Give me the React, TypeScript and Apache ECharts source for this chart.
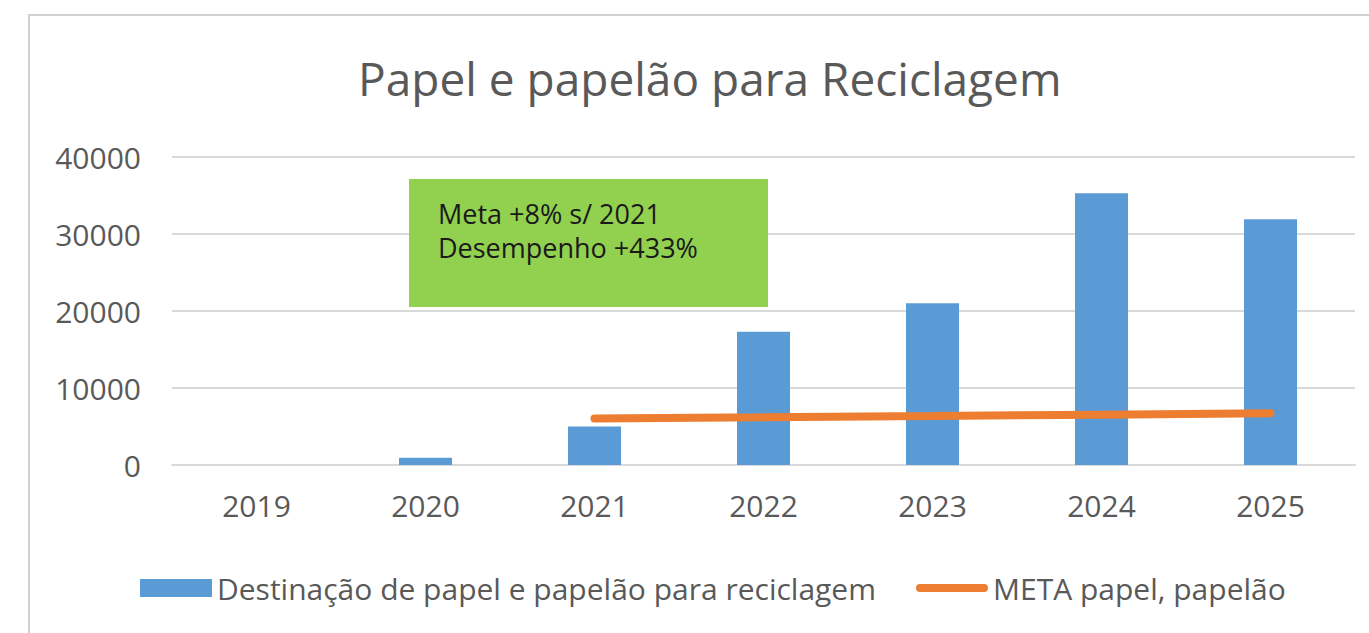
import React, { useEffect, useRef } from "react";
import * as echarts from "echarts";

const categories = ["2019", "2020", "2021", "2022", "2023", "2024", "2025"];
const destinacao = [0, 950, 5000, 17300, 21000, 35300, 31900];
const meta = [null, null, 6050, 6200, 6360, 6540, 6710];
const titleText = "Papel e papelão para Reciclagem";
const seriesNames = ["Destinação de papel e papelão para reciclagem", "META papel, papelão"];
const noteLines = ["Meta +8% s/ 2021", "Desempenho +433%"];

const FONT = "'Open Sans', sans-serif";

export default function App() {
  const ref = useRef<HTMLDivElement>(null);
  useEffect(() => {
    if (!ref.current) return;
    const chart = echarts.init(ref.current, undefined, { renderer: "svg" });
    chart.setOption({
      animation: false,
      backgroundColor: "#ffffff",
      textStyle: { fontFamily: FONT },
      title: {
        text: titleText,
        left: 353,
        top: 50,
        textStyle: { fontFamily: FONT, fontSize: 46, fontWeight: "normal", color: "#595959" },
      },
      grid: { left: 172, right: 14, top: 157, bottom: 168, containLabel: false },
      xAxis: {
        type: "category",
        data: categories,
        axisLine: { lineStyle: { color: "#d9d9d9", width: 2 } },
        axisTick: { show: false },
        axisLabel: { color: "#595959", fontSize: 30, fontFamily: FONT, margin: 25 },
      },
      yAxis: {
        type: "value",
        min: 0,
        max: 40000,
        interval: 10000,
        axisLine: { show: false },
        axisTick: { show: false },
        splitLine: { lineStyle: { color: "#d9d9d9", width: 2 } },
        axisLabel: {
          color: "#595959",
          fontSize: 30,
          fontFamily: FONT,
          margin: 31,
          formatter: (v: number) => String(v),
        },
      },
      legend: {
        left: 135,
        top: 568,
        itemWidth: 72,
        itemHeight: 18,
        itemGap: 40,
        textStyle: { color: "#595959", fontSize: 30, fontFamily: FONT },
        data: [
          { name: seriesNames[0], icon: "rect" },
          {
            name: seriesNames[1],
            icon: "path://M4,0 L68,0 A4,4 0 0 1 68,8 L4,8 A4,4 0 0 1 4,0 Z",
          },
        ],
      },
      series: [
        {
          name: seriesNames[0],
          type: "bar",
          data: destinacao,
          barWidth: 53,
          itemStyle: { color: "#5B9BD5" },
        },
        {
          name: seriesNames[1],
          type: "line",
          data: meta,
          symbol: "none",
          lineStyle: { color: "#ED7D31", width: 8, cap: "round" },
          itemStyle: { color: "#ED7D31" },
        },
      ],
      graphic: [
        {
          type: "rect",
          shape: { x: 29, y: 15, width: 1400, height: 700 },
          style: { fill: "none", stroke: "#d0d0d0", lineWidth: 2 },
          z: -1,
        },
        {
          type: "rect",
          shape: { x: 409, y: 179, width: 359, height: 128 },
          style: { fill: "#92D050" },
          z: 10,
        },
        {
          type: "text",
          x: 438,
          y: 196,
          style: {
            text: noteLines.join("\n"),
            fill: "#1a1a1a",
            font: `27px ${FONT}`,
            lineHeight: 34,
          },
          z: 11,
        },
      ],
    });
    return () => chart.dispose();
  }, []);
  return (
    <div
      ref={ref}
      style={{ position: "fixed", left: 0, top: 0, width: 1369, height: 633 }}
    />
  );
}
